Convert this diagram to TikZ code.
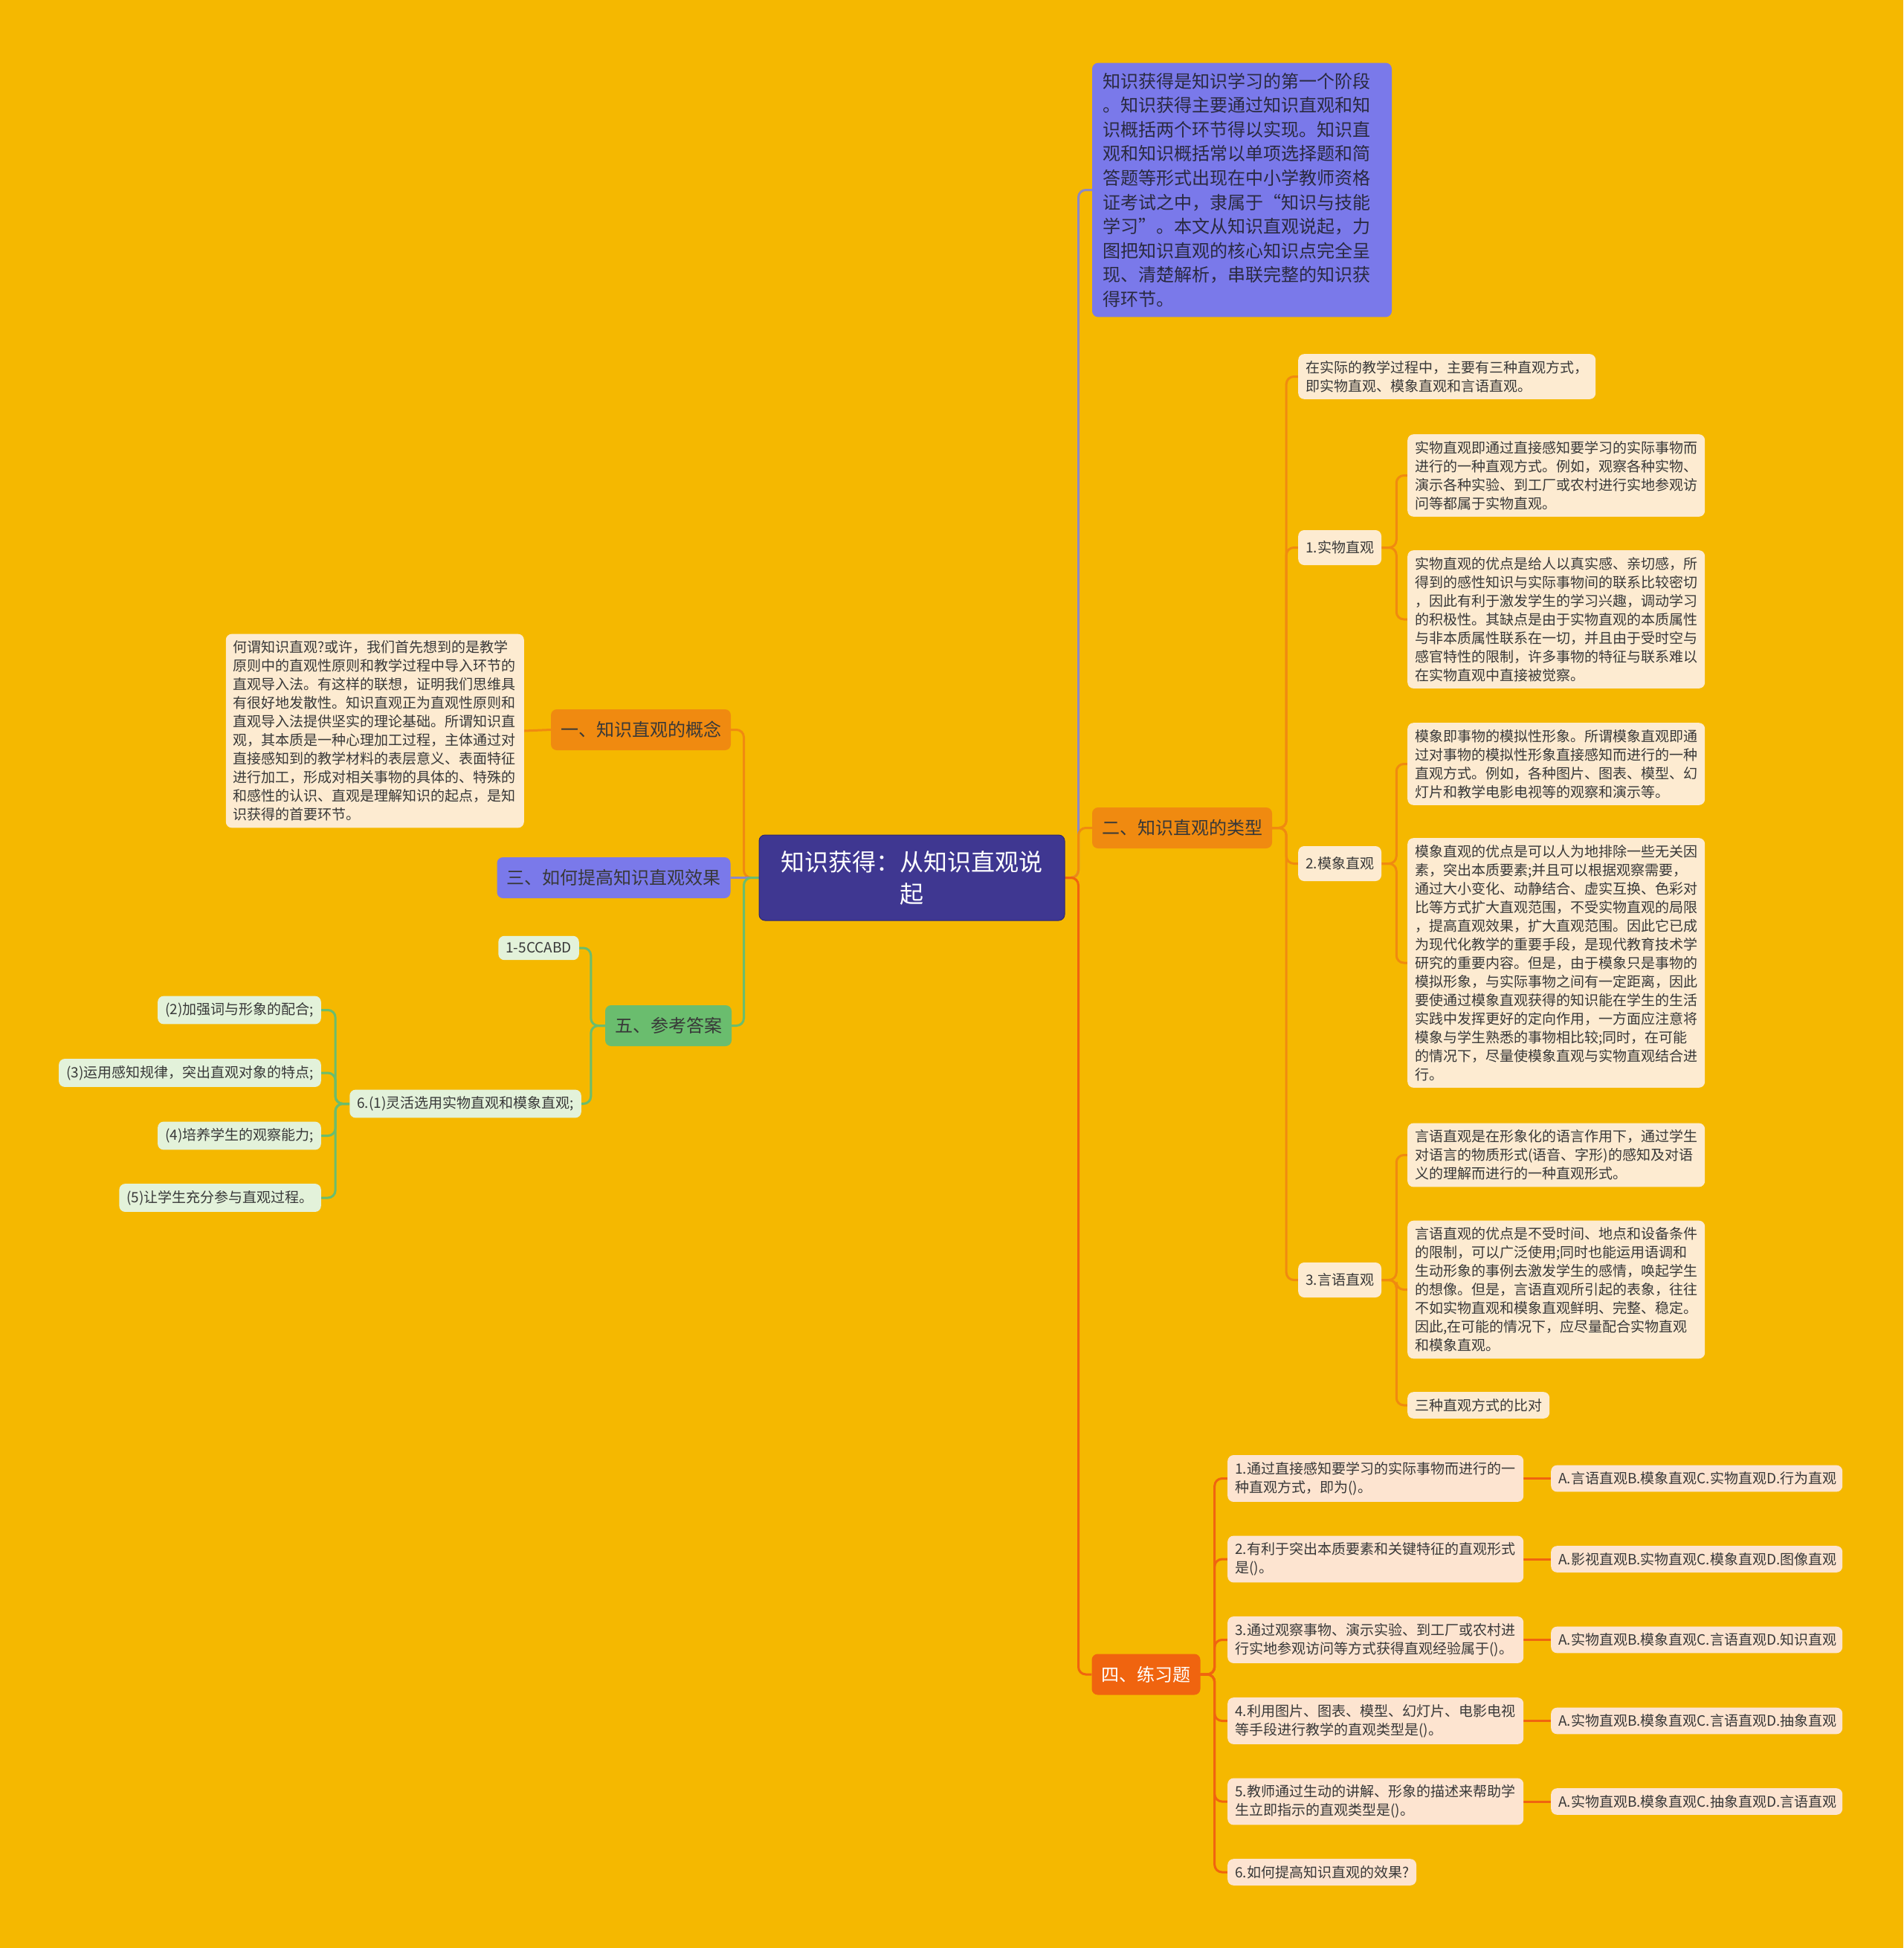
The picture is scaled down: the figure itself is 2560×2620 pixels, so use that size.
\documentclass[tikz,border=0pt]{standalone}
\usepackage{fontspec}
\usepackage{tikz}
\usetikzlibrary{positioning}
\newfontfamily\cjk{Noto Sans CJK SC}
\pgfdeclarelayer{background}
\pgfdeclarelayer{foreground}
\pgfsetlayers{background,main,foreground}
\definecolor{bgyellow}{HTML}{F5B800}
\definecolor{rootblue}{HTML}{3F3791}
\definecolor{rootedge}{HTML}{2E2870}
\definecolor{lilac}{HTML}{7A79EA}
\definecolor{lilacline}{HTML}{8C88C4}
\definecolor{orangeA}{HTML}{F08A10}
\definecolor{redorange}{HTML}{F0640F}
\definecolor{leafgreen}{HTML}{6ABD6E}
\definecolor{cream}{HTML}{FDEBD1}
\definecolor{peach}{HTML}{FDE4D0}
\definecolor{mint}{HTML}{E3F2DA}
\definecolor{inkgray}{HTML}{383838}
\definecolor{darkink}{HTML}{2A2A40}
\tikzstyle{box}=[rounded corners=8pt, inner xsep=10pt, inner ysep=9pt, text=inkgray, align=left, font=\cjk\fontsize{19}{25}\selectfont]
\tikzstyle{leaf}=[box, fill=cream, text width=380pt]
\tikzstyle{tag}=[box, fill=cream]
\tikzstyle{quiz}=[box, fill=peach, text width=378pt]
\tikzstyle{choice}=[box, fill=peach, text width=372pt]
\tikzstyle{keybox}=[box, fill=mint]
\tikzstyle{topic}=[rounded corners=8pt, inner xsep=13pt, minimum height=55pt, text=inkgray, font=\cjk\fontsize{24}{30}\selectfont]
\tikzstyle{wire}=[line width=3pt, rounded corners=10pt]
\tikzset{>=latex}

\begin{document}
\begin{tikzpicture}[x=1pt,y=-1pt]
\useasboundingbox (0,0) rectangle (2560,2620);

% centre
\node[box, fill=rootblue, draw=rootedge, line width=1pt, text=white, align=center, text width=391pt, inner ysep=12pt, minimum height=115pt, font=\cjk\fontsize{32}{43}\selectfont] (root) at (1226.5,1180.5) {知识获得：从知识直观说\\起};

% right side
\node[box, fill=lilac, text=darkink, text width=375pt, inner xsep=14pt, inner ysep=13pt, font=\cjk\fontsize{24}{32.6}\selectfont] (intro) at (1670.5,255.5) {知识获得是知识学习的第一个阶段\\。知识获得主要通过知识直观和知\\识概括两个环节得以实现。知识直\\观和知识概括常以单项选择题和简\\答题等形式出现在中小学教师资格\\证考试之中，隶属于“知识与技能\\学习”。本文从知识直观说起，力\\图把知识直观的核心知识点完全呈\\现、清楚解析，串联完整的知识获\\得环节。};
\node[topic, fill=orangeA] (types) at (1590,1113.5) {二、知识直观的类型};
\node[topic, fill=redorange, text=white] (practice) at (1541.5,2252) {四、练习题};

\node[leaf, anchor=west] (kinds) at (1746,506.5) {在实际的教学过程中，主要有三种直观方式，\\即实物直观、模象直观和言语直观。};
\node[tag, anchor=west, minimum height=47pt] (real) at (1746,736.5) {1.实物直观};
\node[tag, anchor=west, minimum height=47pt] (model) at (1746,1161.5) {2.模象直观};
\node[tag, anchor=west, minimum height=47pt] (verbal) at (1746,1721.5) {3.言语直观};

\node[leaf, anchor=west] (realA) at (1893,639.5) {实物直观即通过直接感知要学习的实际事物而\\进行的一种直观方式。例如，观察各种实物、\\演示各种实验、到工厂或农村进行实地参观访\\问等都属于实物直观。};
\node[leaf, anchor=west] (realB) at (1893,833) {实物直观的优点是给人以真实感、亲切感，所\\得到的感性知识与实际事物间的联系比较密切\\，因此有利于激发学生的学习兴趣，调动学习\\的积极性。其缺点是由于实物直观的本质属性\\与非本质属性联系在一切，并且由于受时空与\\感官特性的限制，许多事物的特征与联系难以\\在实物直观中直接被觉察。};
\node[leaf, anchor=west] (modelA) at (1893,1027.5) {模象即事物的模拟性形象。所谓模象直观即通\\过对事物的模拟性形象直接感知而进行的一种\\直观方式。例如，各种图片、图表、模型、幻\\灯片和教学电影电视等的观察和演示等。};
\node[leaf, anchor=west] (modelB) at (1893,1295) {模象直观的优点是可以人为地排除一些无关因\\素，突出本质要素;并且可以根据观察需要，\\通过大小变化、动静结合、虚实互换、色彩对\\比等方式扩大直观范围，不受实物直观的局限\\，提高直观效果，扩大直观范围。因此它已成\\为现代化教学的重要手段，是现代教育技术学\\研究的重要内容。但是，由于模象只是事物的\\模拟形象，与实际事物之间有一定距离，因此\\要使通过模象直观获得的知识能在学生的生活\\实践中发挥更好的定向作用，一方面应注意将\\模象与学生熟悉的事物相比较;同时，在可能\\的情况下，尽量使模象直观与实物直观结合进\\行。};
\node[leaf, anchor=west] (verbalA) at (1893,1553.5) {言语直观是在形象化的语言作用下，通过学生\\对语言的物质形式(语音、字形)的感知及对语\\义的理解而进行的一种直观形式。};
\node[leaf, anchor=west] (verbalB) at (1893,1734.5) {言语直观的优点是不受时间、地点和设备条件\\的限制，可以广泛使用;同时也能运用语调和\\生动形象的事例去激发学生的感情，唤起学生\\的想像。但是，言语直观所引起的表象，往往\\不如实物直观和模象直观鲜明、完整、稳定。\\因此,在可能的情况下，应尽量配合实物直观\\和模象直观。};
\node[tag, anchor=west] (compare) at (1893,1890) {三种直观方式的比对};

\foreach \i/\y/\q/\a in {
  1/1988.5/{1.通过直接感知要学习的实际事物而进行的一\\种直观方式，即为()。}/{A.言语直观B.模象直观C.实物直观D.行为直观},
  2/2097/{2.有利于突出本质要素和关键特征的直观形式\\是()。}/{A.影视直观B.实物直观C.模象直观D.图像直观},
  3/2205.5/{3.通过观察事物、演示实验、到工厂或农村进\\行实地参观访问等方式获得直观经验属于()。}/{A.实物直观B.模象直观C.言语直观D.知识直观},
  4/2314.5/{4.利用图片、图表、模型、幻灯片、电影电视\\等手段进行教学的直观类型是()。}/{A.实物直观B.模象直观C.言语直观D.抽象直观},
  5/2423/{5.教师通过生动的讲解、形象的描述来帮助学\\生立即指示的直观类型是()。}/{A.实物直观B.模象直观C.抽象直观D.言语直观}}{
  \node[quiz, anchor=west] (q\i) at (1651,\y) {\q};
  \node[choice, anchor=west] (c\i) at (2086,\y) {\a};
}
\node[box, fill=peach, anchor=west] (q6) at (1651,2518) {6.如何提高知识直观的效果?};

% left side
\node[topic, fill=orangeA] (concept) at (862,981.5) {一、知识直观的概念};
\node[topic, fill=lilac] (improve) at (825.5,1180.5) {三、如何提高知识直观效果};
\node[topic, fill=leafgreen] (answer) at (899,1379.5) {五、参考答案};

\node[leaf, anchor=east, text width=381pt] (conceptText) at (705,983) {何谓知识直观?或许，我们首先想到的是教学\\原则中的直观性原则和教学过程中导入环节的\\直观导入法。有这样的联想，证明我们思维具\\有很好地发散性。知识直观正为直观性原则和\\直观导入法提供坚实的理论基础。所谓知识直\\观，其本质是一种心理加工过程，主体通过对\\直接感知到的教学材料的表层意义、表面特征\\进行加工，形成对相关事物的具体的、特殊的\\和感性的认识、直观是理解知识的起点，是知\\识获得的首要环节。};

\node[keybox, anchor=east] (ans1) at (779,1275) {1-5CCABD};
\node[keybox, anchor=east] (ans6) at (782,1484.5) {6.(1)灵活选用实物直观和模象直观;};
\node[keybox, anchor=east] (ans2) at (432,1358.5) {(2)加强词与形象的配合;};
\node[keybox, anchor=east] (ans3) at (432,1443) {(3)运用感知规律，突出直观对象的特点;};
\node[keybox, anchor=east] (ans4) at (432,1527.5) {(4)培养学生的观察能力;};
\node[keybox, anchor=east] (ans5) at (432,1611) {(5)让学生充分参与直观过程。};

\begin{pgfonlayer}{background}
\fill[bgyellow] (0,0) rectangle (2560,2620);
\draw[wire, lilacline] (root.east) -- ++(18,0) |- (intro.west);
\draw[wire, orangeA] (root.east) -- ++(18,0) |- (types.west);
\draw[wire, redorange] (root.east) -- ++(18,0) |- (practice.west);
\draw[wire, orangeA] (root.west) -- ++(-20,0) |- (concept.east);
\draw[wire, lilacline] (root.west) -- (improve.east);
\draw[wire, leafgreen] (root.west) -- ++(-20,0) |- (answer.east);
\draw[wire, orangeA] (concept.west) -- (conceptText.east);
\foreach \n in {ans1,ans6}
  \draw[wire, leafgreen] (answer.west) -- ++(-19,0) |- (\n.east);
\foreach \n in {ans2,ans3,ans4,ans5}
  \draw[wire, leafgreen] (ans6.west) -- ++(-19,0) |- (\n.east);
\foreach \n in {kinds,real,model,verbal}
  \draw[wire, orangeA] (types.east) -- ++(19,0) |- (\n.west);
\foreach \n in {realA,realB}
  \draw[wire, orangeA] (real.east) -- ++(20,0) |- (\n.west);
\foreach \n in {modelA,modelB}
  \draw[wire, orangeA] (model.east) -- ++(20,0) |- (\n.west);
\foreach \n in {verbalA,verbalB,compare}
  \draw[wire, orangeA] (verbal.east) -- ++(20,0) |- (\n.west);
\foreach \n in {q1,q2,q3,q4,q5,q6}
  \draw[wire, redorange] (practice.east) -- ++(19,0) |- (\n.west);
\foreach \i in {1,...,5}
  \draw[wire, redorange] (q\i.east) -- (c\i.west);
\end{pgfonlayer}
\end{tikzpicture}
\end{document}
